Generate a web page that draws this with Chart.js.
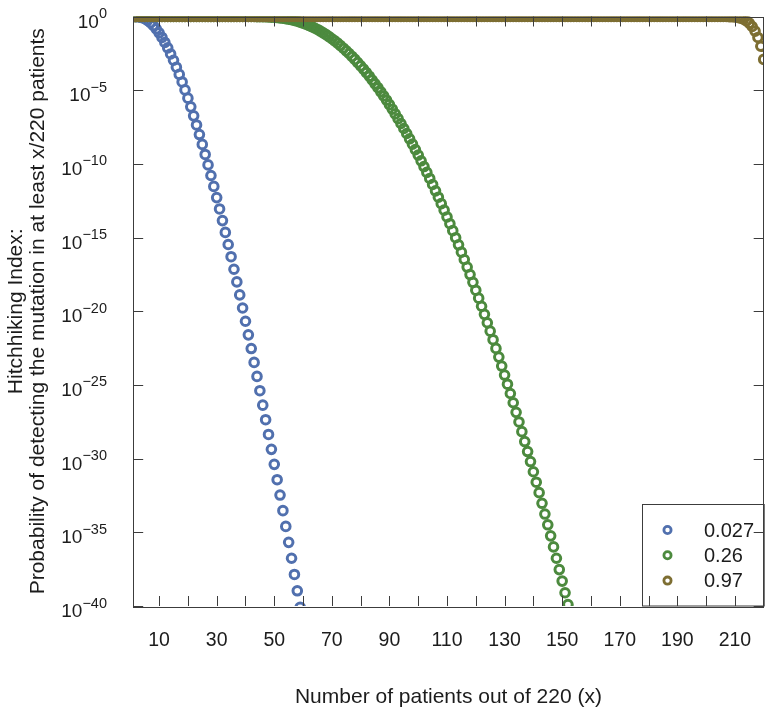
<!DOCTYPE html>
<html lang="en">
<head>
    <meta charset="UTF-8">
    <title>Hitchhiking Index</title>
    <script src="https://cdn.jsdelivr.net/npm/chart.js"></script>
    <style>
        body {
            margin: 0;
            background-color: white;
        }
        canvas {
            display: block;
        }
    </style>
</head>
<body>
    <canvas id="hitchChart" width="771" height="718"></canvas>

    <script>
        // patients axis: 1..220 (x = number of patients)
        const patients = Array.from({ length: 220 }, (_, i) => i + 1);

        // series labels (mutation frequency)
        const freqLabels = ['0.027', '0.26', '0.97'];

        // log10 of the probability, one value per patient count starting at x = 1
        const exp027 = [
            0.00, -0.01, -0.03, -0.07, -0.15, -0.26, -0.42, -0.61, -0.84, -1.11,
            -1.42, -1.76, -2.13, -2.54, -2.97, -3.44, -3.93, -4.44, -4.98, -5.54,
            -6.13, -6.74, -7.36, -8.01, -8.68, -9.36, -10.07, -10.79, -11.53, -12.29,
            -13.06, -13.85, -14.65, -15.47, -16.30, -17.15, -18.01, -18.89, -19.78, -20.68,
            -21.60, -22.53, -23.47, -24.42, -25.39, -26.37, -27.36, -28.36, -29.37, -30.39,
            -31.43, -32.47, -33.53, -34.60, -35.68, -36.76, -37.86, -38.97, -40.09
        ];
        const exp026 = [
            0, 0, 0, 0, 0, 0, 0, 0, 0, 0,
            0, 0, 0, 0, 0, 0, 0, 0, 0, 0,
            0, 0, 0, 0, 0, 0, 0, 0, 0, 0,
            0, 0, 0, 0, 0, 0, 0, 0, 0, 0,
            0, 0, 0, -0.01, -0.01, -0.01, -0.02, -0.03, -0.04, -0.05,
            -0.07, -0.09, -0.12, -0.15, -0.18, -0.22, -0.27, -0.32, -0.38, -0.45,
            -0.52, -0.60, -0.69, -0.78, -0.88, -0.99, -1.11, -1.23, -1.36, -1.51,
            -1.65, -1.81, -1.97, -2.15, -2.33, -2.51, -2.71, -2.91, -3.13, -3.35,
            -3.57, -3.81, -4.05, -4.31, -4.57, -4.83, -5.11, -5.39, -5.68, -5.98,
            -6.29, -6.61, -6.93, -7.26, -7.60, -7.94, -8.30, -8.66, -9.03, -9.40,
            -9.79, -10.18, -10.58, -10.99, -11.40, -11.83, -12.26, -12.70, -13.14, -13.60,
            -14.06, -14.53, -15.01, -15.49, -15.99, -16.49, -17.00, -17.51, -18.04, -18.57,
            -19.11, -19.66, -20.21, -20.78, -21.35, -21.93, -22.52, -23.11, -23.72, -24.33,
            -24.95, -25.58, -26.21, -26.86, -27.51, -28.17, -28.84, -29.52, -30.20, -30.89,
            -31.60, -32.31, -33.03, -33.76, -34.49, -35.24, -35.99, -36.76, -37.53, -38.31,
            -39.10, -39.90
        ];
        const exp097 = [
            0, 0, 0, 0, 0, 0, 0, 0, 0, 0, 0, 0, 0, 0, 0, 0, 0, 0, 0, 0,
            0, 0, 0, 0, 0, 0, 0, 0, 0, 0, 0, 0, 0, 0, 0, 0, 0, 0, 0, 0,
            0, 0, 0, 0, 0, 0, 0, 0, 0, 0, 0, 0, 0, 0, 0, 0, 0, 0, 0, 0,
            0, 0, 0, 0, 0, 0, 0, 0, 0, 0, 0, 0, 0, 0, 0, 0, 0, 0, 0, 0,
            0, 0, 0, 0, 0, 0, 0, 0, 0, 0, 0, 0, 0, 0, 0, 0, 0, 0, 0, 0,
            0, 0, 0, 0, 0, 0, 0, 0, 0, 0, 0, 0, 0, 0, 0, 0, 0, 0, 0, 0,
            0, 0, 0, 0, 0, 0, 0, 0, 0, 0, 0, 0, 0, 0, 0, 0, 0, 0, 0, 0,
            0, 0, 0, 0, 0, 0, 0, 0, 0, 0, 0, 0, 0, 0, 0, 0, 0, 0, 0, 0,
            0, 0, 0, 0, 0, 0, 0, 0, 0, 0, 0, 0, 0, 0, 0, 0, 0, 0, 0, 0,
            0, 0, 0, 0, 0, 0, 0, 0, 0, 0, 0, 0, 0, 0, 0, 0, 0, 0, 0, 0,
            0, 0, 0, 0, 0, 0, 0, -0.01, -0.02, -0.03, -0.06, -0.11, -0.18, -0.29, -0.45, -0.68, -0.99, -1.42, -2.02, -2.91
        ];

        // axis ticks
        const xTicks = [10, 20, 30, 40, 50, 60, 70, 80, 90, 100, 110, 120, 130, 140, 150, 160, 170, 180, 190, 200, 210];
        const xTickLabels = [10, 30, 50, 70, 90, 110, 130, 150, 170, 190, 210];
        const yTickExps = [0, -5, -10, -15, -20, -25, -30, -35, -40];

        const colors = ['#5170ae', '#4c8a3e', '#7d6e32'];
        const fontFamily = "'Liberation Sans', Arial, Helvetica, sans-serif";
        const inkColor = '#1c1c1c';
        const frameColor = '#3c3c3c';

        Chart.defaults.font.family = fontFamily;
        Chart.defaults.color = inkColor;

        function toPoints(exps) {
            return exps.map((e, i) => ({ x: patients[i], y: Math.pow(10, e) }));
        }

        // frame, inside ticks, y labels with superscripts and the boxed legend
        const framePlugin = {
            id: 'framePlugin',
            afterDraw(chart) {
                const { ctx, chartArea: a, scales } = chart;
                const xs = scales.x, ys = scales.y;

                // legend box
                const lx = 642, ly = 504.5, lw = a.right - 642, lh = a.bottom - 504.5;
                ctx.save();
                ctx.fillStyle = 'white';
                ctx.fillRect(lx, ly, lw, lh);
                ctx.strokeStyle = frameColor;
                ctx.lineWidth = 1;
                ctx.strokeRect(lx + 0.5, ly, lw, lh);
                chart.data.datasets.forEach((ds, i) => {
                    const cy = 530 + i * 25.3;
                    ctx.beginPath();
                    ctx.arc(667.5, cy, 3.6, 0, Math.PI * 2);
                    ctx.strokeStyle = ds.borderColor;
                    ctx.lineWidth = 2.8;
                    ctx.stroke();
                    ctx.fillStyle = inkColor;
                    ctx.font = '20px ' + fontFamily;
                    ctx.textAlign = 'left';
                    ctx.textBaseline = 'middle';
                    ctx.fillText(ds.label, 704, cy + 1);
                });

                // frame
                ctx.strokeStyle = frameColor;
                ctx.lineWidth = 1;
                ctx.strokeRect(Math.round(a.left) + 0.5, Math.round(a.top) + 0.5,
                    Math.round(a.right - a.left) - 1, Math.round(a.bottom - a.top));

                // inside ticks on all four sides
                ctx.beginPath();
                xTicks.forEach(v => {
                    const px = Math.round(xs.getPixelForValue(v)) + 0.5;
                    ctx.moveTo(px, a.bottom);
                    ctx.lineTo(px, a.bottom - 10);
                    ctx.moveTo(px, a.top);
                    ctx.lineTo(px, a.top + 10);
                });
                yTickExps.forEach(e => {
                    const py = Math.round(ys.getPixelForValue(Math.pow(10, e))) + 0.5;
                    ctx.moveTo(a.left, py);
                    ctx.lineTo(a.left + 10, py);
                    ctx.moveTo(a.right, py);
                    ctx.lineTo(a.right - 10, py);
                });
                ctx.stroke();

                // y labels: 10 with a raised exponent
                ctx.fillStyle = inkColor;
                ctx.textBaseline = 'alphabetic';
                yTickExps.forEach(e => {
                    const py = ys.getPixelForValue(Math.pow(10, e));
                    const sup = e === 0 ? '0' : '\u2212' + String(-e);
                    ctx.font = '14.5px ' + fontFamily;
                    const supW = ctx.measureText(sup).width;
                    ctx.textAlign = 'left';
                    ctx.fillText(sup, 107 - supW, py + 1.5);
                    ctx.font = '19px ' + fontFamily;
                    ctx.textAlign = 'right';
                    ctx.fillText('10', 107 - supW, py + 11);
                });
                ctx.restore();
            }
        };

        const ctx = document.getElementById('hitchChart').getContext('2d');
        const hitchChart = new Chart(ctx, {
            type: 'scatter',
            data: {
                datasets: [exp027, exp026, exp097].map((exps, i) => ({
                    label: freqLabels[i],
                    data: toPoints(exps),
                    borderColor: colors[i],
                    backgroundColor: 'transparent',
                    pointRadius: 4.3,
                    pointBorderWidth: 3,
                    pointHoverRadius: 4.3,
                    order: 3 - i,
                    clip: 0
                }))
            },
            options: {
                responsive: false,
                animation: false,
                events: [],
                layout: {
                    padding: { top: 16.5, right: 3.5, bottom: 0, left: 0 }
                },
                plugins: {
                    legend: { display: false },
                    tooltip: { enabled: false }
                },
                scales: {
                    x: {
                        type: 'linear',
                        min: 1,
                        max: 220,
                        grid: { display: false },
                        border: { display: false },
                        afterBuildTicks: scale => {
                            scale.ticks = xTicks.map(v => ({ value: v }));
                        },
                        afterFit: scale => {
                            scale.height = 112;
                        },
                        ticks: {
                            autoSkip: false,
                            maxRotation: 0,
                            padding: 15,
                            color: inkColor,
                            font: { size: 19.5 },
                            callback: v => xTickLabels.includes(v) ? String(v) : ''
                        },
                        title: {
                            display: true,
                            text: 'Number of patients out of 220 (x)',
                            color: inkColor,
                            font: { size: 21 },
                            padding: { top: 0, bottom: 8 }
                        }
                    },
                    y: {
                        type: 'logarithmic',
                        min: 1e-40,
                        max: 1,
                        grid: { display: false },
                        border: { display: false },
                        afterBuildTicks: scale => {
                            scale.ticks = yTickExps.map(e => ({ value: Math.pow(10, e) }));
                        },
                        afterFit: scale => {
                            scale.width = 133.2;
                        },
                        ticks: { display: false },
                        title: {
                            display: true,
                            text: ['Hitchhiking Index:', 'Probability of detecting the mutation in at least x/220 patients'],
                            color: inkColor,
                            font: { size: 21, lineHeight: 1.05 },
                            padding: { top: 5, bottom: 0 }
                        }
                    }
                }
            },
            plugins: [framePlugin]
        });
    </script>
</body>
</html>
